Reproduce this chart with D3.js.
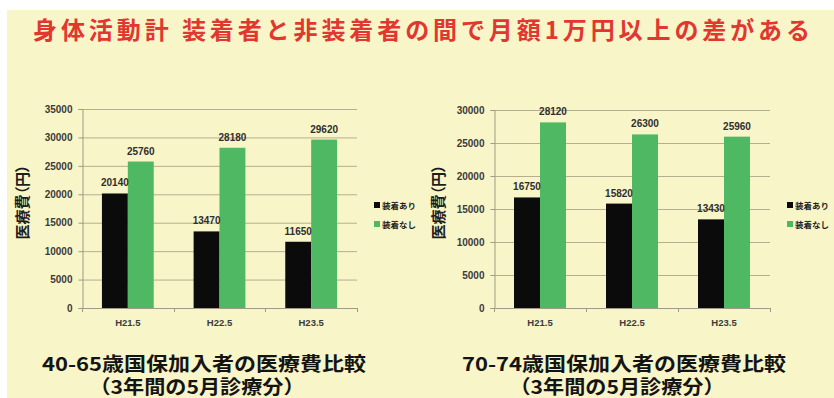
<!DOCTYPE html>
<html>
<head>
<meta charset="utf-8">
<script src="https://cdn.jsdelivr.net/npm/d3@7/dist/d3.min.js"></script>
<style>
  html, body { margin: 0; padding: 0; background: #ffffff; }
  svg { display: block; }
</style>
</head>
<body>
<svg id="chart" width="834" height="398"></svg>
<script>
// Categories (survey month) and legend series
const categories = ["H21.5", "H22.5", "H23.5"];
const seriesNames = ["装着あり", "装着なし"];

// Medical cost (yen), ages 40-65
const youngerWearing = [20140, 13470, 11650];
const youngerNotWearing = [25760, 28180, 29620];
const youngerTicks = [0, 5000, 10000, 15000, 20000, 25000, 30000, 35000];

// Medical cost (yen), ages 70-74
const olderWearing = [16750, 15820, 13430];
const olderNotWearing = [28120, 26300, 25960];
const olderTicks = [0, 5000, 10000, 15000, 20000, 25000, 30000];

const headline = "身体活動計 装着者と非装着者の間で月額1万円以上の差がある";
const yTitle = "医療費（円）";
const youngerCaption = ["40-65歳国保加入者の医療費比較", "（3年間の5月診療分）"];
const olderCaption = ["70-74歳国保加入者の医療費比較", "（3年間の5月診療分）"];

const colors = { "装着あり": "#0b0b0b", "装着なし": "#4fb862" };
const numFont = "'Liberation Sans', Arial, sans-serif";
const jpFont = "'Noto Sans CJK JP', 'Noto Sans CJK SC', sans-serif";

const svg = d3.select("#chart");

// page background
svg.append("rect").attr("x", 7).attr("y", 10).attr("width", 827).attr("height", 388)
  .attr("fill", "#f8f5c9");

// headline
svg.append("text")
  .attr("x", 33).attr("y", 28)
  .attr("dominant-baseline", "central")
  .attr("textLength", 777).attr("lengthAdjust", "spacing")
  .attr("font-family", jpFont).attr("font-weight", 700).attr("font-size", 24)
  .attr("fill", "#e2372f")
  .text(headline);

function drawChart(opt) {
  const g = svg.append("g");
  const x0 = d3.scaleBand().domain(categories)
    .range([opt.left, opt.right]).paddingInner(0.435).paddingOuter(0.2175);
  const x1 = d3.scaleBand().domain(seriesNames).range([0, x0.bandwidth()]);
  const y = d3.scaleLinear().domain([0, opt.max]).range([opt.bottom, opt.top]);

  // horizontal gridlines
  g.append("g").selectAll("line").data(opt.ticks.filter(t => t > 0)).join("line")
    .attr("x1", opt.left).attr("x2", opt.right)
    .attr("y1", d => y(d) + 0.5).attr("y2", d => y(d) + 0.5)
    .attr("stroke", "#b9ad90").attr("stroke-width", 1);

  // y axis
  const yAxis = g.append("g")
    .attr("transform", `translate(${opt.left + 0.5},0)`)
    .call(d3.axisLeft(y).tickValues(opt.ticks).tickSize(4).tickPadding(6).tickFormat(d3.format("d")));
  yAxis.select(".domain").attr("stroke", "#9d9a88");
  yAxis.selectAll(".tick line").attr("stroke", "#9d9a88");
  yAxis.selectAll("text")
    .attr("font-family", numFont).attr("font-weight", 700).attr("font-size", 10)
    .attr("fill", "#3b3b3b");

  // x axis: ticks at category boundaries
  const boundaries = [opt.left].concat(categories.map(c => x0(c) + x0.bandwidth() / 2 + x0.step() / 2));
  const xg = g.append("g");
  xg.append("line").attr("x1", opt.left).attr("x2", opt.right)
    .attr("y1", opt.bottom + 0.5).attr("y2", opt.bottom + 0.5).attr("stroke", "#9d9a88");
  xg.selectAll("line.tk").data(boundaries).join("line").attr("class", "tk")
    .attr("x1", d => Math.round(d) + 0.5).attr("x2", d => Math.round(d) + 0.5)
    .attr("y1", opt.bottom).attr("y2", opt.bottom + 4).attr("stroke", "#9d9a88");
  xg.selectAll("text").data(categories).join("text")
    .attr("x", d => x0(d) + x0.bandwidth() / 2).attr("y", opt.bottom + 18)
    .attr("text-anchor", "middle")
    .attr("font-family", numFont).attr("font-weight", 700).attr("font-size", 9.5)
    .attr("fill", "#3b3b3b")
    .text(d => d);

  // bars
  const rows = categories.map((c, i) => ({
    cat: c,
    vals: [
      { key: seriesNames[0], value: opt.wearing[i] },
      { key: seriesNames[1], value: opt.notWearing[i] }
    ]
  }));
  const grp = g.append("g").selectAll("g").data(rows).join("g")
    .attr("transform", d => `translate(${x0(d.cat)},0)`);
  grp.selectAll("rect").data(d => d.vals).join("rect")
    .attr("x", d => x1(d.key)).attr("width", x1.bandwidth())
    .attr("y", d => y(d.value)).attr("height", d => opt.bottom - y(d.value))
    .attr("fill", d => colors[d.key]);
  grp.selectAll("text").data(d => d.vals).join("text")
    .attr("x", d => x1(d.key) + x1.bandwidth() / 2).attr("y", d => y(d.value) - 7)
    .attr("text-anchor", "middle")
    .attr("font-family", numFont).attr("font-weight", 700).attr("font-size", 10)
    .attr("fill", "#2f2f2f")
    .text(d => d.value);

  // y axis title (proportional punctuation keeps the brackets tight)
  g.append("text")
    .attr("transform", `translate(${opt.titleX},${opt.titleY}) rotate(-90)`)
    .attr("text-anchor", "middle").attr("dominant-baseline", "central")
    .style("font-feature-settings", "'palt' 1")
    .attr("font-family", jpFont).attr("font-weight", 700).attr("font-size", 15)
    .attr("fill", "#1e1e1e")
    .text(yTitle);

  // legend
  const lg = g.append("g").selectAll("g").data(seriesNames).join("g")
    .attr("transform", (d, i) => `translate(${opt.right + 17},${205 + i * 19})`);
  lg.append("rect").attr("x", 0).attr("y", -3).attr("width", 6).attr("height", 6)
    .attr("fill", d => colors[d]);
  lg.append("text").attr("x", 8).attr("y", 0).attr("dominant-baseline", "central")
    .attr("font-family", jpFont).attr("font-weight", 700).attr("font-size", 8.5)
    .attr("fill", "#1e1e1e")
    .text(d => d);

  // two-line caption under the chart, set in slightly widened glyphs
  const cap = g.append("g");
  cap.append("text")
    .attr("x", opt.captionX).attr("y", 362)
    .attr("text-anchor", "middle").attr("dominant-baseline", "central")
    .attr("textLength", 324).attr("lengthAdjust", "spacingAndGlyphs")
    .attr("font-family", jpFont).attr("font-weight", 700).attr("font-size", 19)
    .attr("fill", "#141414")
    .text(opt.caption[0]);
  cap.append("text")
    .attr("x", opt.captionX - 7).attr("y", 385)
    .attr("text-anchor", "middle").attr("dominant-baseline", "central")
    .attr("textLength", 215).attr("lengthAdjust", "spacingAndGlyphs")
    .attr("font-family", jpFont).attr("font-weight", 700).attr("font-size", 19)
    .attr("fill", "#141414")
    .text(opt.caption[1]);
}

drawChart({
  left: 82, right: 357, top: 109, bottom: 308, max: 35000,
  ticks: youngerTicks, wearing: youngerWearing, notWearing: youngerNotWearing,
  titleX: 21, titleY: 202, caption: youngerCaption, captionX: 204
});
drawChart({
  left: 494, right: 770, top: 110, bottom: 308, max: 30000,
  ticks: olderTicks, wearing: olderWearing, notWearing: olderNotWearing,
  titleX: 437, titleY: 202, caption: olderCaption, captionX: 624
});
</script>
</body>
</html>
